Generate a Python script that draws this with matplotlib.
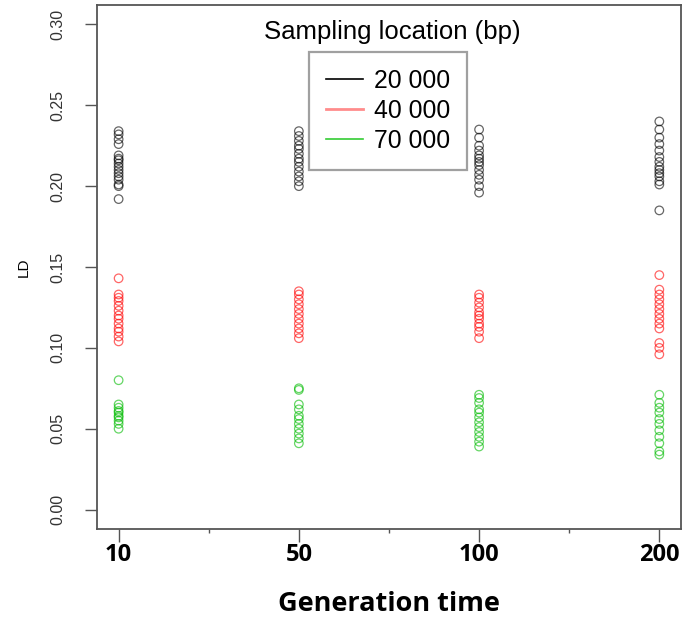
import matplotlib.pyplot as plt
from matplotlib.lines import Line2D

# generation times (categorical x positions)
generations = ['10', '50', '100', '200']

# LD values per generation, sampling location 20 000 bp
ld_20k = [
    [0.234, 0.232, 0.229, 0.226, 0.219, 0.217, 0.216, 0.214, 0.212, 0.210,
     0.208, 0.206, 0.204, 0.201, 0.200, 0.192],
    [0.234, 0.231, 0.228, 0.225, 0.223, 0.220, 0.217, 0.215, 0.212, 0.209,
     0.206, 0.203, 0.200],
    [0.235, 0.230, 0.225, 0.222, 0.219, 0.217, 0.215, 0.213, 0.210, 0.207,
     0.204, 0.200, 0.196],
    [0.240, 0.235, 0.230, 0.226, 0.222, 0.218, 0.215, 0.212, 0.210, 0.208,
     0.206, 0.203, 0.201, 0.185],
]
# sampling location 40 000 bp
ld_40k = [
    [0.143, 0.133, 0.131, 0.129, 0.126, 0.123, 0.120, 0.118, 0.115, 0.112,
     0.110, 0.107, 0.104],
    [0.135, 0.133, 0.130, 0.127, 0.124, 0.121, 0.118, 0.115, 0.112, 0.109,
     0.106],
    [0.133, 0.131, 0.128, 0.125, 0.122, 0.120, 0.118, 0.115, 0.113, 0.110,
     0.106],
    [0.145, 0.136, 0.133, 0.130, 0.127, 0.124, 0.121, 0.118, 0.115, 0.112,
     0.103, 0.100, 0.096],
]
# sampling location 70 000 bp
ld_70k = [
    [0.080, 0.065, 0.063, 0.061, 0.060, 0.058, 0.057, 0.055, 0.053, 0.050],
    [0.075, 0.074, 0.065, 0.062, 0.058, 0.056, 0.053, 0.050, 0.047, 0.044,
     0.041],
    [0.071, 0.069, 0.066, 0.062, 0.060, 0.057, 0.054, 0.051, 0.048, 0.045,
     0.042, 0.039],
    [0.071, 0.066, 0.063, 0.060, 0.056, 0.053, 0.049, 0.045, 0.041, 0.036,
     0.034],
]

locations = ['20 000', '40 000', '70 000']
point_colors = ['#000000', '#FF0000', '#00BB00']
legend_colors = ['#000000', '#FF8C8C', '#33CC33']

plt.rcParams['font.family'] = ['Liberation Sans', 'DejaVu Sans']

fig = plt.figure(figsize=(6.83, 6.17), dpi=100)
ax = fig.add_axes([0.142, 0.1426, 0.855, 0.8493])

for series, col in zip([ld_20k, ld_40k, ld_70k], point_colors):
    for i, vals in enumerate(series):
        ax.scatter([i + 1] * len(vals), vals, s=38, facecolors='none',
                   edgecolors=col, linewidths=0.9, alpha=0.6)

ax.set_xlim(0.88, 4.12)
ax.set_ylim(-0.012, 0.312)

ax.set_xticks([1, 2, 3, 4])
ax.set_xticklabels(generations, fontsize=17, fontweight='bold',
                   family=['Open Sans', 'DejaVu Sans'])
ax.set_xticks([1.5, 2.5, 3.5], minor=True)
ax.tick_params(axis='x', which='major', length=9, width=1, color='#555555', pad=1)
ax.tick_params(axis='x', which='minor', length=3, width=1, color='#555555')

yt = [0.00, 0.05, 0.10, 0.15, 0.20, 0.25, 0.30]
ax.set_yticks(yt)
ax.set_yticklabels(['%.2f' % v for v in yt], rotation=90, va='center',
                   fontsize=11.5, color='#333333')
ax.tick_params(axis='y', length=9, width=1, color='#555555', pad=14)

for sp in ax.spines.values():
    sp.set_color('#555555')
    sp.set_linewidth(1.3)

ax.set_ylabel('LD', fontsize=11, labelpad=14)
ax.set_xlabel('Generation time', fontsize=19.5, fontweight='bold',
              family=['Open Sans', 'DejaVu Sans'], labelpad=17)

handles = [Line2D([0], [0], color=c, lw=2 if c == '#FF8C8C' else 1.2)
           for c in legend_colors]
leg = ax.legend(handles, locations, loc='upper left',
                bbox_to_anchor=(0.363, 0.910), fontsize=17.8, frameon=True,
                fancybox=False, borderpad=0.68, labelspacing=0.24,
                handlelength=1.5, handletextpad=0.45, borderaxespad=0)
leg.get_frame().set_edgecolor('#888888')
leg.get_frame().set_linewidth(1.6)
ax.text(0.505, 0.948, 'Sampling location (bp)', transform=ax.transAxes,
        ha='center', va='center', fontsize=18.5)

fig.savefig('out.png', dpi=100)
